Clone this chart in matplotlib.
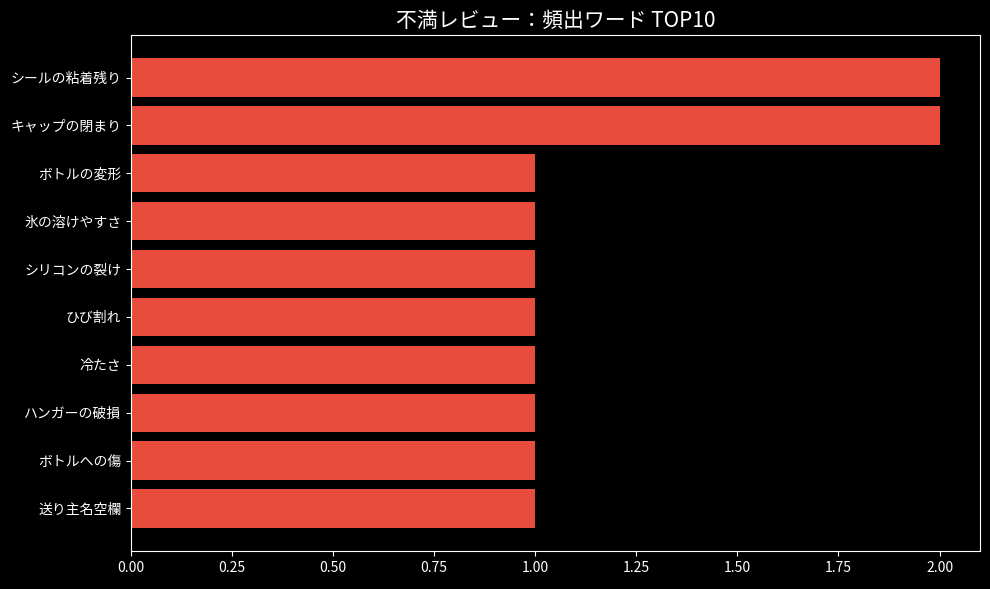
import matplotlib
matplotlib.use("Agg")
import matplotlib.pyplot as plt

plt.style.use("dark_background")
plt.rcParams['font.family'] = ['Noto Sans CJK JP', 'DejaVu Sans']

words = ["シールの粘着残り", "キャップの閉まり", "ボトルの変形", "氷の溶けやすさ", "シリコンの裂け",
         "ひび割れ", "冷たさ", "ハンガーの破損", "ボトルへの傷", "送り主名空欄"]
counts = [2, 2, 1, 1, 1, 1, 1, 1, 1, 1]

fig = plt.figure(figsize=(9.9, 5.89), dpi=100)
ax = fig.add_axes([131/990, 1-551/589, (980-131)/990, (551-35)/589])
ax.barh(words[::-1], counts[::-1], color="#e74c3c")
ax.set_title("不満レビュー：頻出ワード TOP10", fontsize=15)
ax.tick_params(labelsize=10)
fig.savefig("out.png", dpi=100)
